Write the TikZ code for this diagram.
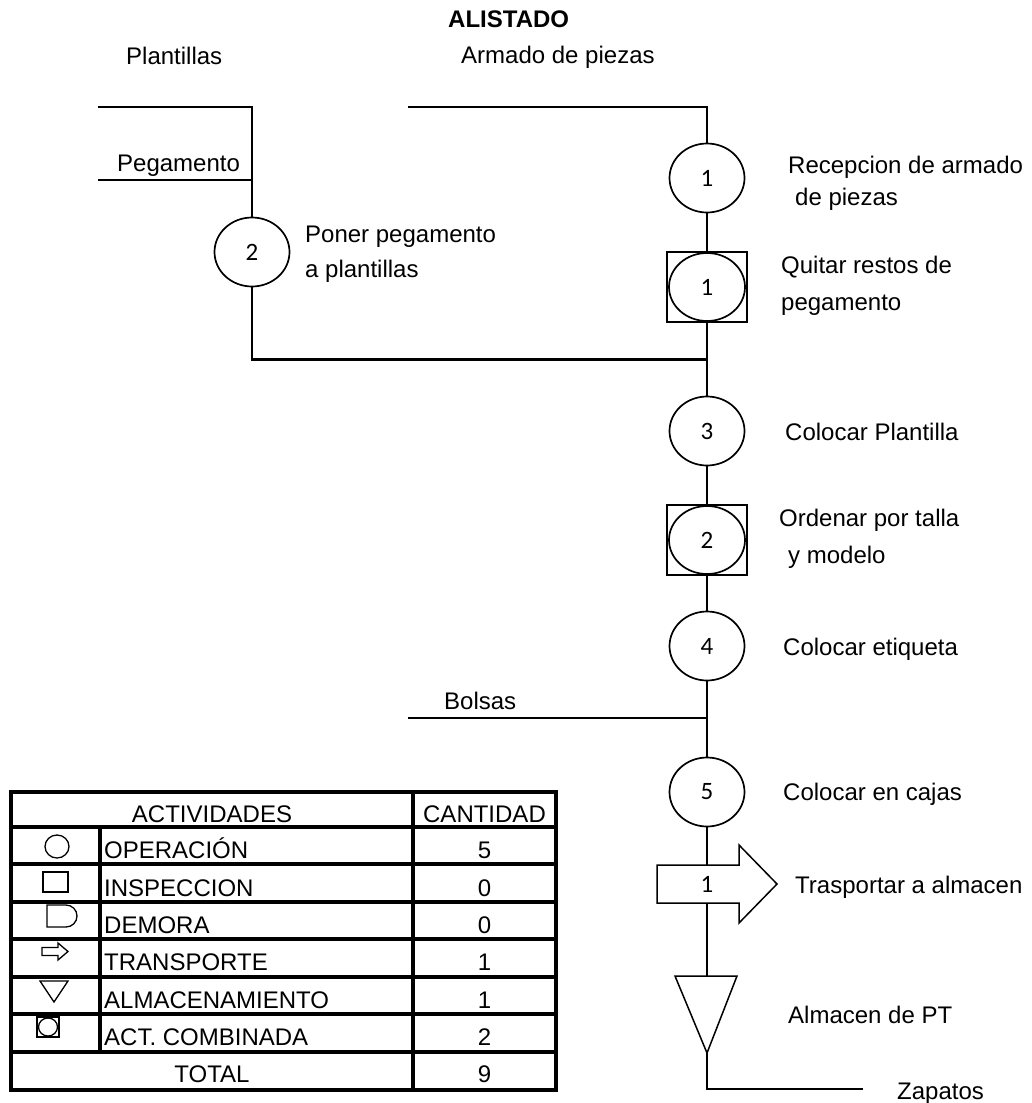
\documentclass[tikz,border=0pt]{standalone}
\usepackage{fontspec}
\setmainfont{Liberation Sans}
\newfontfamily\numfont{Carlito}
\usetikzlibrary{shapes.geometric}
\begin{document}
\begin{tikzpicture}[x=1pt,y=-1pt,
  lbl/.style={anchor=base west, inner sep=0pt, font=\fontsize{24}{28}\selectfont},
  op/.style={ellipse, draw, line width=1.7pt, minimum width=75pt, minimum height=69pt, inner sep=0pt, fill=white, font=\numfont\fontsize{25}{28}\selectfont},
  comb/.style={rectangle, draw, line width=1.5pt, minimum width=80pt, minimum height=70pt, inner sep=0pt, fill=white},
  flow/.style={line width=2.3pt},
  shp/.style={line width=1.5pt, fill=white},
  tbl/.style={line width=3.4pt},
  cell/.style={anchor=base, inner sep=0pt, font=\fontsize{24}{28}\selectfont},
  sym/.style={line width=1.3pt},
]
\useasboundingbox (0,0) rectangle (1031,1103);

% ---------- titles ----------
\node[lbl, font=\bfseries\fontsize{24}{28}\selectfont] (title) at (448,27) {ALISTADO};
\node[lbl] (tplant) at (126,64) {Plantillas};
\node[lbl] (tarm) at (461,63) {Armado de piezas};
\node[lbl] (tpeg) at (117,171) {Pegamento};
\node[lbl] (tbol) at (444,709) {Bolsas};

% ---------- coordinates ----------
\coordinate (p0) at (98,107);
\coordinate (p1) at (252,107);
\coordinate (g0) at (98,180);
\coordinate (g1) at (252,180);
\coordinate (a0) at (408,107);
\coordinate (a1) at (707,107);
\coordinate (j0) at (252,359.5);
\coordinate (j1) at (707,359.5);
\coordinate (b0) at (408,718);
\coordinate (j2) at (707,718);
\coordinate (at) at (707,865);
\coordinate (ab) at (707,903);
\coordinate (tt) at (707,976);
\coordinate (tb) at (707,1053);
\coordinate (z0) at (707,1089);
\coordinate (z1) at (863,1089);

% ---------- connectors ----------
\draw[flow] (p0) -- (p1) -- (252,218);
\draw[flow] (g0) -- (g1);
\draw[flow] (a0) -- (a1) -- (707,143);
\draw[flow] (252,287) -- (j0) -- (j1);
\draw[flow] (707,213) -- (707,322);
\draw[flow] (707,322) -- (j1) -- (707,466);
\draw[flow] (707,466) -- (707,612);
\draw[flow] (707,680) -- (j2) -- (707,757);
\draw[flow] (b0) -- (j2);
\draw[flow] (707,827) -- (at);
\draw[flow] (ab) -- (tt);
\draw[flow] (tb) -- (z0) -- (z1);

% ---------- operations ----------
\node[op] (c2) at (252,252) {2};
\node[op] (c1) at (707,178) {1};
\node[comb] (s1) at (707,287) {};
\node[op, minimum width=76pt, minimum height=68pt] (s1c) at (s1.center) {1};
\node[op] (c3) at (707,431) {3};
\node[comb] (s2) at (707,540) {};
\node[op, minimum width=76pt, minimum height=68pt] (s2c) at (s2.center) {2};
\node[op] (c4) at (707,646) {4};
\node[op] (c5) at (707,792) {5};

% transport arrow
\draw[shp] (657,865) -- (739,865) -- (739,845) -- (777,884) -- (739,923) -- (739,903) -- (657,903) -- cycle;
\node[inner sep=0pt, font=\numfont\fontsize{25}{28}\selectfont] (tr) at (707,884) {1};

% storage triangle
\draw[shp] (675,976) -- (737,976) -- (tb) -- cycle;

% ---------- step labels ----------
\node[lbl] (l2a) at (305,242) {Poner pegamento};
\node[lbl] (l2b) at (305,277) {a plantillas};
\node[lbl] (l1a) at (788,173) {Recepcion de armado};
\node[lbl] (l1b) at (795,205) {de piezas};
\node[lbl] (lq1) at (781,273) {Quitar restos de};
\node[lbl] (lq2) at (781,310) {pegamento};
\node[lbl] (l3) at (785,440) {Colocar Plantilla};
\node[lbl] (lo1) at (779,526) {Ordenar por talla};
\node[lbl] (lo2) at (788,563) {y modelo};
\node[lbl] (l4) at (783,655) {Colocar etiqueta};
\node[lbl] (l5) at (783,800) {Colocar en cajas};
\node[lbl] (lt) at (795,893) {Trasportar a almacen};
\node[lbl] (la) at (788,1023) {Almacen de PT};
\node[lbl] (lz) at (897,1099) {Zapatos};

% ---------- summary table ----------
\draw[tbl] (11,792) rectangle (556,1090);
\foreach \yy in {827,864,902,939,977,1014,1052} \draw[tbl] (11,\yy) -- (556,\yy);
\draw[tbl] (413,792) -- (413,1090);
\draw[tbl] (100,827) -- (100,1052);

\node[cell] (hA) at (212,822) {ACTIVIDADES};
\node[cell] (hC) at (484.5,822) {CANTIDAD};
\node[lbl] (r1) at (104,858) {OPERACIÓN};
\node[lbl] (r2) at (104,896) {INSPECCION};
\node[lbl] (r3) at (104,933) {DEMORA};
\node[lbl] (r4) at (104,970) {TRANSPORTE};
\node[lbl] (r5) at (104,1008) {ALMACENAMIENTO};
\node[lbl] (r6) at (104,1045) {ACT. COMBINADA};
\node[cell] (rt) at (212,1082) {TOTAL};
\node[cell] (v1) at (484.5,858) {5};
\node[cell] (v2) at (484.5,896) {0};
\node[cell] (v3) at (484.5,933) {0};
\node[cell] (v4) at (484.5,970) {1};
\node[cell] (v5) at (484.5,1008) {1};
\node[cell] (v6) at (484.5,1045) {2};
\node[cell] (vt) at (484.5,1082) {9};

% legend symbols
\draw[sym] (57,846.5) ellipse [x radius=12, y radius=11.5];
\draw[sym] (43,872) rectangle (68,892);
\draw[sym] (47,905) -- (66,905) arc[start angle=-90, end angle=90, radius=11] -- (47,927) -- cycle;
\draw[sym] (42,947.5) -- (58,947.5) -- (58,943) -- (68,951.5) -- (58,960) -- (58,955.5) -- (42,955.5) -- cycle;
\draw[sym] (40,981) -- (68,981) -- (54,1002) -- cycle;
\draw[line width=1.8pt] (37,1017) rectangle (59,1037);
\draw[sym] (48,1027) ellipse [x radius=9.5, y radius=9];
\end{tikzpicture}
\end{document}
